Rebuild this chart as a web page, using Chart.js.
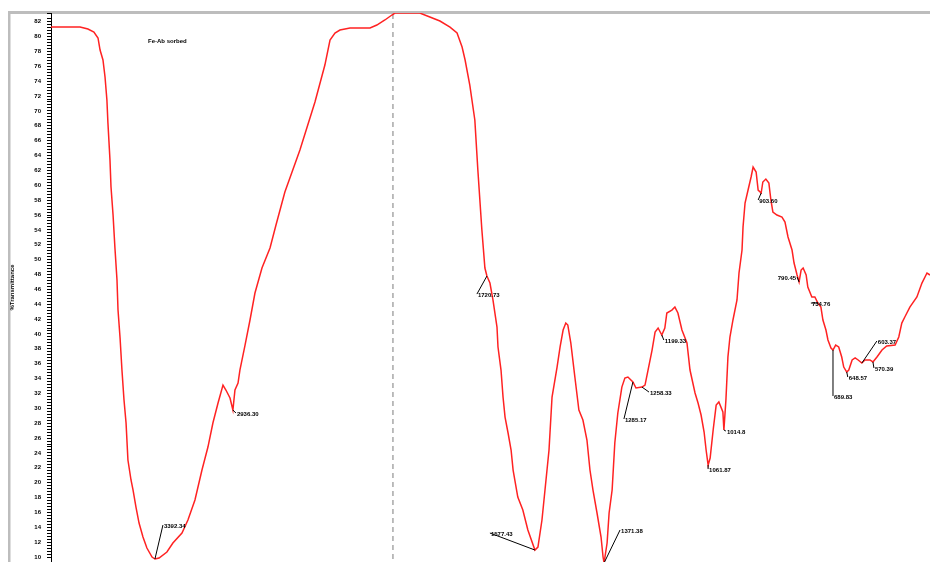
<!DOCTYPE html>
<html>
<head>
<meta charset="utf-8">
<script src="https://cdn.jsdelivr.net/npm/chart.js@4.4.1/dist/chart.umd.min.js"></script>
<style>
  html, body { margin: 0; padding: 0; background: #fff; }
  #wrap { width: 930px; height: 562px; }
</style>
</head>
<body>
<div id="wrap"><canvas id="irChart"></canvas></div>
<script>
// spectrum (wavenumber cm-1, %T)
const WAVENUMBER = [
  4000, 3830, 3784, 3749, 3725, 3713, 3696, 3684, 3673, 3667,
  3655, 3649, 3637, 3626, 3614, 3608, 3596, 3585, 3573, 3561,
  3550, 3532, 3520, 3503, 3485, 3462, 3439, 3409, 3392, 3368,
  3322, 3287, 3234, 3199, 3158, 3117, 3082, 3053, 3023, 2994,
  2977, 2953, 2936, 2924, 2906, 2895, 2865, 2836, 2807, 2766,
  2719, 2684, 2632, 2544, 2456, 2398, 2368, 2339, 2310, 2251,
  2134, 2094, 2047, 2006, 1994, 1920, 1890, 1860, 1830, 1809,
  1794, 1785, 1771, 1756, 1747, 1735, 1726, 1720, 1711, 1702,
  1690, 1687, 1678, 1672, 1666, 1657, 1648, 1642, 1628, 1613,
  1598, 1577, 1568, 1556, 1547, 1541, 1535, 1526, 1511, 1502,
  1493, 1485, 1479, 1470, 1458, 1446, 1434, 1422, 1413, 1404,
  1392, 1380, 1374, 1371, 1362, 1356, 1347, 1339, 1330, 1318,
  1309, 1300, 1285, 1276, 1258, 1249, 1240, 1228, 1219, 1210,
  1199, 1190, 1184, 1169, 1160, 1151, 1139, 1124, 1115, 1100,
  1091, 1082, 1073, 1067, 1061, 1055, 1046, 1037, 1029, 1017,
  1014, 1008, 1002, 996, 987, 975, 969, 960, 957, 951,
  942, 933, 927, 918, 912, 903, 898, 889, 880, 874,
  868, 856, 841, 832, 823, 811, 805, 796, 790, 784,
  778, 769, 764, 752, 743, 734, 725, 719, 710, 704,
  695, 689, 681, 672, 663, 657, 648, 642, 632, 623,
  614, 603, 594, 579, 570, 558, 543, 529, 504, 493,
  484, 475, 460, 439, 424, 409, 400
];
const TRANSMITTANCE = [
  81.28, 81.28, 81.01, 80.61, 79.81, 78.19, 76.85, 74.56, 71.47, 68.37,
  63.40, 59.76, 56.00, 51.56, 47.26, 43.22, 39.46, 35.15, 31.12, 28.02,
  23.05, 20.36, 19.01, 16.72, 14.57, 12.69, 11.21, 10.00, 9.73, 9.87,
  10.67, 11.88, 13.23, 14.98, 17.67, 21.70, 24.79, 28.02, 30.71, 33.13,
  32.46, 31.39, 29.77, 32.46, 33.40, 35.15, 38.51, 41.88, 45.51, 48.87,
  51.56, 54.65, 59.09, 64.74, 71.20, 76.17, 79.54, 80.48, 80.88, 81.15,
  81.15, 81.55, 82.23, 82.90, 83.17, 83.17, 82.63, 82.09, 81.28, 80.48,
  78.59, 76.85, 73.48, 68.78, 62.05, 53.98, 48.87, 47.79, 46.85, 44.57,
  40.93, 38.25, 35.15, 31.52, 28.83, 26.68, 24.39, 21.70, 18.07, 16.32,
  13.63, 10.94, 11.34, 14.98, 19.01, 21.70, 24.39, 31.52, 35.55, 38.25,
  40.53, 41.47, 41.20, 38.78, 34.21, 29.77, 28.43, 25.74, 21.70, 19.01,
  15.92, 12.69, 10.00, 9.20, 11.88, 15.92, 19.01, 25.33, 29.37, 32.86,
  34.08, 34.21, 33.54, 32.73, 32.86, 33.13, 35.15, 37.84, 40.26, 40.80,
  39.86, 40.80, 42.82, 43.22, 43.62, 42.82, 40.53, 38.78, 35.15, 32.06,
  30.71, 29.10, 26.81, 24.39, 22.37, 23.32, 27.08, 30.44, 30.85, 29.50,
  27.08, 31.12, 36.90, 39.59, 41.88, 44.57, 48.20, 51.29, 54.38, 57.61,
  59.36, 61.11, 62.45, 61.78, 59.36, 58.96, 60.44, 60.84, 60.30, 58.02,
  56.40, 56.00, 55.73, 55.06, 53.04, 51.29, 49.54, 47.93, 46.99, 48.60,
  48.87, 47.93, 46.31, 44.97, 44.97, 44.16, 43.62, 41.88, 40.53, 39.19,
  38.11, 37.84, 38.51, 38.25, 36.90, 35.55, 34.88, 35.15, 36.50, 36.77,
  36.50, 36.09, 36.50, 36.50, 36.23, 36.90, 37.84, 38.38, 38.51, 39.59,
  41.47, 42.28, 43.62, 44.97, 46.85, 48.20, 47.93
];

// marked bands
const PEAK_WAVENUMBER = [3392, 2936, 1720, 1577, 1371, 1285, 1258, 1199, 1061, 1014, 903, 790, 734, 689, 648, 603, 570];
const PEAK_TEXT = ['3392.34', '2936.30', '1720.73', '1577.43', '1371.38', '1285.17', '1258.33', '1199.33',
  '1061.87', '1014.8', '903.60', '790.45', '734.76', '689.83', '648.57', '603.37', '570.39'];

const SAMPLE_NAME = 'Fe-Ab sorbed';
const Y_TITLE = '%Transmittance';

// x axis: 4000-2000 is squeezed into the first part, like the instrument plot
const BREAK_AT = 2000;
const SPLIT = 0.389;

class BrokenScale extends Chart.LinearScale {
  getPixelForValue(value) {
    const f = value >= BREAK_AT
      ? (this.max - value) / (this.max - BREAK_AT) * SPLIT
      : SPLIT + (BREAK_AT - value) / (BREAK_AT - this.min) * (1 - SPLIT);
    return this.left + f * this.width;
  }
}
BrokenScale.id = 'broken';
BrokenScale.defaults = Chart.LinearScale.defaults;
Chart.register(BrokenScale);

function valueAt(wn) {
  for (let i = 0; i < WAVENUMBER.length - 1; i++) {
    const a = WAVENUMBER[i], b = WAVENUMBER[i + 1];
    if (wn <= a && wn >= b) {
      const t = a === b ? 0 : (a - wn) / (a - b);
      return TRANSMITTANCE[i] + t * (TRANSMITTANCE[i + 1] - TRANSMITTANCE[i]);
    }
  }
  return TRANSMITTANCE[TRANSMITTANCE.length - 1];
}

// where each peak label sits, px from the band [dx, dy, align]
const labelPlacement = [
  [8, -34, 'left'], [3, 3, 'left'], [-10, 18, 'left'], [-45, -17, 'left'], [16, -33, 'left'],
  [-9, 37, 'left'], [7, 5, 'left'], [2, 5, 'left'], [0, 4, 'left'], [2, 1, 'left'],
  [-3, 7, 'left'], [-2, -5, 'right'], [-7, 0, 'left'], [0, 46, 'left'], [1, 5, 'left'],
  [15, -22, 'left'], [1, 6, 'left']
];

const framePlugin = {
  id: 'frame',
  beforeDraw(chart) {
    const c = chart.ctx;
    c.save();
    c.fillStyle = '#fff';
    c.fillRect(0, 0, chart.width, chart.height);
    c.fillStyle = '#bdbdbd';
    c.fillRect(8, 11, chart.width - 8, 3);
    c.fillRect(8, 11, 2.5, chart.height - 11);
    c.restore();
  },
  beforeDatasetsDraw(chart) {
    const c = chart.ctx, x = chart.scales.x.getPixelForValue(BREAK_AT);
    c.save();
    c.strokeStyle = '#a8a8a8';
    c.lineWidth = 1.5;
    c.setLineDash([5, 4]);
    c.beginPath();
    c.moveTo(x, chart.chartArea.top + 1);
    c.lineTo(x, chart.chartArea.bottom);
    c.stroke();
    c.restore();
  },
  afterDatasetsDraw(chart) {
    const c = chart.ctx, xs = chart.scales.x, ys = chart.scales.y;
    c.save();
    c.font = 'bold 6px "Liberation Sans"';
    c.fillStyle = '#000';
    c.strokeStyle = '#000';
    c.lineWidth = 1;
    c.textBaseline = 'middle';
    PEAK_WAVENUMBER.forEach((wn, i) => {
      const px = xs.getPixelForValue(wn), py = ys.getPixelForValue(valueAt(wn));
      const [dx, dy, align] = labelPlacement[i];
      c.beginPath();
      c.moveTo(px, py);
      c.lineTo(px + dx, py + dy);
      c.stroke();
      c.textAlign = align;
      c.fillText(PEAK_TEXT[i], px + dx + (align === 'left' ? 1 : -1), py + dy + 1);
    });
    c.textAlign = 'left';
    c.fillText(SAMPLE_NAME, 148, 41);
    c.restore();
  }
};

const ctx = document.getElementById('irChart').getContext('2d');

new Chart(ctx, {
  type: 'line',
  data: {
    datasets: [{
      data: WAVENUMBER.map((wn, i) => ({ x: wn, y: TRANSMITTANCE[i] })),
      borderColor: '#ff2222',
      borderWidth: 1.5,
      pointRadius: 0,
      tension: 0,
      fill: false
    }]
  },
  options: {
    responsive: true,
    maintainAspectRatio: false,
    animation: false,
    events: [],
    layout: { padding: { left: 9, top: 13, right: 0, bottom: 0 } },
    plugins: {
      legend: { display: false },
      tooltip: { enabled: false }
    },
    scales: {
      x: {
        type: 'broken',
        min: 400,
        max: 4000,
        display: false
      },
      y: {
        min: 9.33,
        max: 83.17,
        afterFit: (scale) => {
          scale.width = 42;
          scale.paddingTop = 0;
          scale.paddingBottom = 0;
        },
        border: { display: true, color: '#000', width: 1 },
        grid: { drawOnChartArea: false, color: '#000', tickLength: 4 },
        title: {
          display: true,
          text: Y_TITLE,
          color: '#000',
          font: { family: 'Liberation Sans', size: 6, weight: 'bold' },
          padding: 0
        },
        ticks: {
          stepSize: 0.4,
          maxTicksLimit: 1000,
          autoSkip: false,
          padding: 6,
          color: '#000',
          font: { family: 'Liberation Sans', size: 6, weight: 'bold' },
          callback: (v) => Math.abs(v / 2 - Math.round(v / 2)) < 1e-6 ? Math.round(v) : ''
        }
      }
    }
  },
  plugins: [framePlugin]
});
</script>
</body>
</html>
